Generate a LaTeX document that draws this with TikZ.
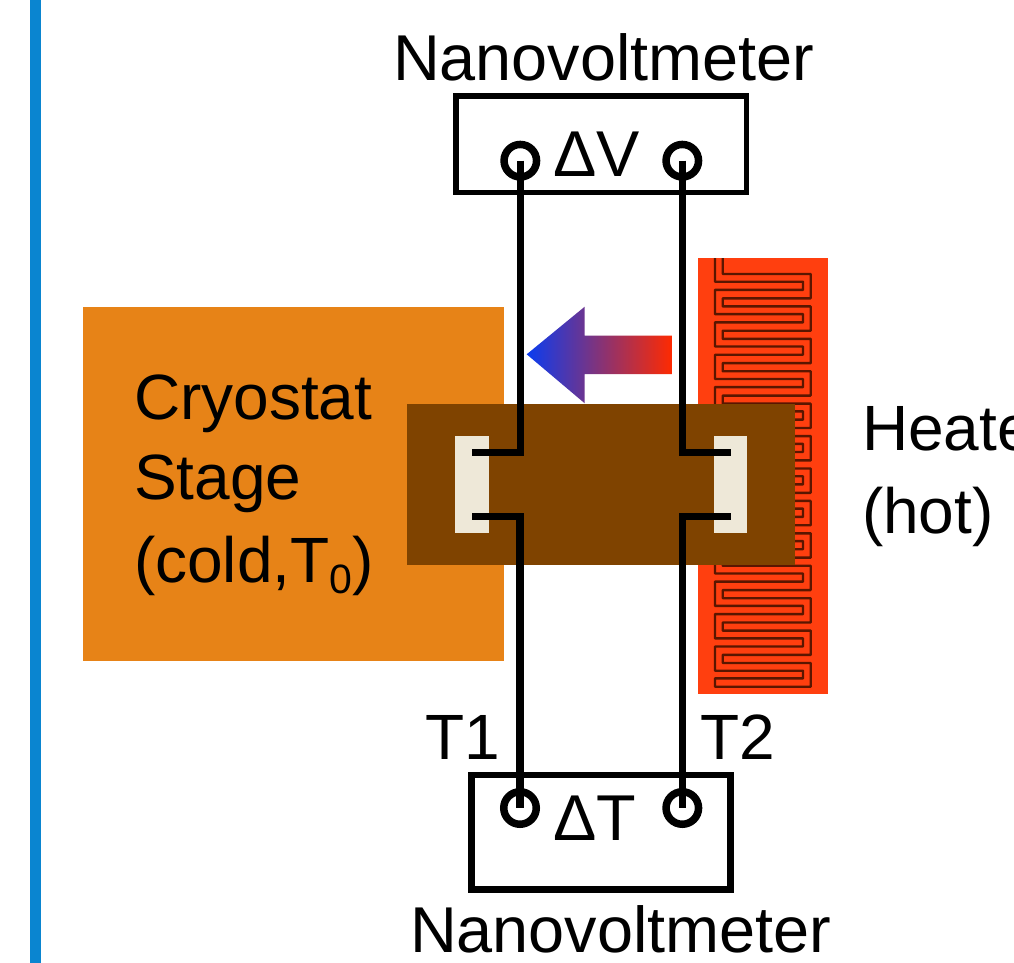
\documentclass[tikz,border=0pt]{standalone}
\usepackage{fontspec}
\setmainfont{Liberation Sans}
\definecolor{barblue}{HTML}{0A85D0}
\definecolor{stage}{HTML}{E78317}
\definecolor{sample}{HTML}{7F4300}
\definecolor{heater}{HTML}{FF3F0F}
\definecolor{trace}{HTML}{5A1600}
\definecolor{pad}{HTML}{EEE8D8}
\definecolor{coldblue}{HTML}{0A3CF0}
\definecolor{hotred}{HTML}{FF2A00}
\tikzset{
  x=1pt,y=-1pt,
  label text/.style={anchor=base west,inner sep=0pt,outer sep=0pt,font=\fontsize{64}{64}\selectfont},
  wide text/.style={label text,font=\fontsize{64.8}{64.8}\selectfont},
  meter/.style={draw=black,line width=5.5pt,fill=white,line join=miter},
  terminal/.style={circle,draw=black,line width=7.5pt,minimum size=32.5pt,inner sep=0pt,outer sep=0pt},
  wire/.style={draw=black,line width=7.5pt,line join=miter},
  tracepath/.style={draw=trace,line width=2.4pt,line join=round}
}
\begin{document}
\begin{tikzpicture}
\path[use as bounding box] (0,0) rectangle (1014,963);
\clip (0,0) rectangle (1014,963);
\fill[white] (0,0) rectangle (1014,963);
% left bar
\fill[barblue] (30,0) rectangle (41,963);
% heater
\fill[heater] (698,258) rectangle (828,694);
% serpentine
\draw[tracepath] (715,258) -- (715,281.7)
  \foreach \k in {0,...,11}{
    -- (803,{281.7+32.42*\k}) -- (803,{289.9+32.42*\k}) -- (715,{289.9+32.42*\k}) -- (715,{314.12+32.42*\k})
  }
  -- (803,670.7) -- (803,678.3) -- (715,678.3) -- (715,686.7) -- (810.7,686.7) -- (810.7,663) -- (722.7,663)
  \foreach \k in {11,10,...,0}{
    -- (722.7,{298.3+32.42*\k}) -- (810.7,{298.3+32.42*\k}) -- (810.7,{274+32.42*\k}) -- (722.7,{274+32.42*\k})
  }
  -- (722.7,258);
% cryostat stage and sample
\fill[stage] (83,307) rectangle (504,661);
\fill[sample] (407,404) rectangle (795,565);
\fill[pad] (455,436) rectangle (489,533);
\fill[pad] (714,436) rectangle (747,533);
% gradient arrow
\shade[left color=coldblue,right color=hotred,shading=axis,shading angle=90]
  (526.7,354.3) -- (584.7,306.7) -- (584.7,335.7) -- (672.3,335.7) -- (672.3,374) -- (584.7,374) -- (584.7,403.3) -- cycle;
% meters
\draw[meter] (456,96) rectangle (746.7,192.5);
\draw[meter,line width=6.5pt] (471.6,775) rectangle (730.7,889.3);
% terminals
\node[terminal] (v1) at (520.3,160.7) {};
\node[terminal] (v2) at (682.3,160.7) {};
\node[terminal] (t1) at (520,808) {};
\node[terminal] (t2) at (682.3,808) {};
% contact points
\coordinate (a1) at (472,452.3);
\coordinate (a2) at (472,516.7);
\coordinate (b1) at (730.7,452.3);
\coordinate (b2) at (730.7,516.7);
% wires
\draw[wire] (v1.center) -- (v1.center |- a1) -- (a1);
\draw[wire] (a2) -- (t1.center |- a2) -- (t1.center);
\draw[wire] (v2.center) -- (v2.center |- b1) -- (b1);
\draw[wire] (b2) -- (t2.center |- b2) -- (t2.center);
% labels
\node[wide text] (nvtop) at (393,80.5) {Nanovoltmeter};
\node[wide text] (nvbot) at (410,952) {Nanovoltmeter};
\node[wide text] (dv) at (553,176.7) {ΔV};
\node[wide text] (dt) at (553,840) {ΔT};
\node[label text] (tone) at (425,759) {T1};
\node[label text] (ttwo) at (700,759) {T2};
\node[label text] (cry) at (134,419) {Cryostat};
\node[label text] (stg) at (134,499) {Stage};
\node[label text] (cld) at (134,582) {(cold,T\raisebox{-11pt}{\fontsize{41}{41}\selectfont 0})};
\node[label text] (hta) at (862,450) {Heater};
\node[label text] (htb) at (862,533) {(hot)};
\end{tikzpicture}
\end{document}
